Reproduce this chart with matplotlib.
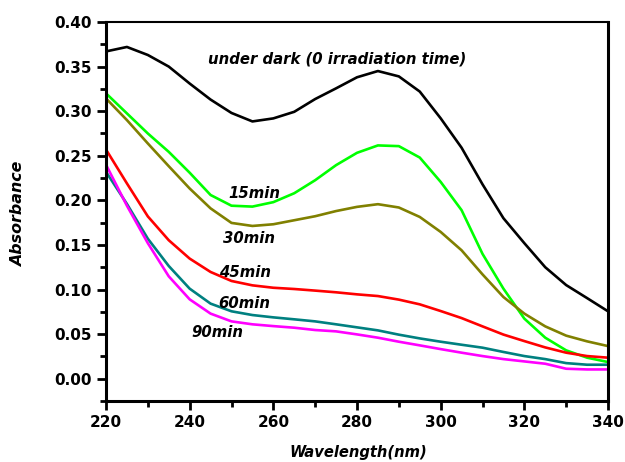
import matplotlib
matplotlib.use("Agg")
import matplotlib.pyplot as plt
from matplotlib.ticker import MultipleLocator, FormatStrFormatter

# Wavelength grid (nm)
wavelength = [220, 225, 230, 235, 240, 245, 250, 255, 260, 265, 270, 275, 280,
              285, 290, 295, 300, 305, 310, 315, 320, 325, 330, 335, 340]

# Absorbance spectra at each irradiation time
dark = [0.367, 0.372, 0.363, 0.350, 0.331, 0.313, 0.298, 0.2885, 0.2919, 0.2993,
        0.3136, 0.3256, 0.338, 0.345, 0.339, 0.322, 0.292, 0.259, 0.218, 0.180,
        0.152, 0.125, 0.105, 0.0904, 0.0756]
min15 = [0.320, 0.2975, 0.275, 0.2544, 0.231, 0.206, 0.194, 0.193, 0.198, 0.208,
         0.2226, 0.2395, 0.2533, 0.2616, 0.2608, 0.248, 0.2207, 0.189, 0.140, 0.101,
         0.0674, 0.046, 0.0318, 0.0236, 0.0187]
min30 = [0.3143, 0.290, 0.2638, 0.2383, 0.2133, 0.191, 0.1747, 0.1713, 0.1732, 0.1777,
         0.1822, 0.188, 0.1927, 0.1957, 0.192, 0.1814, 0.1646, 0.144, 0.117, 0.0916,
         0.073, 0.0587, 0.0483, 0.0419, 0.0366]
min45 = [0.257, 0.219, 0.182, 0.1553, 0.1347, 0.1197, 0.1096, 0.1047, 0.102, 0.1006,
         0.0988, 0.0969, 0.0946, 0.0927, 0.0887, 0.0834, 0.0759, 0.068, 0.0587, 0.0495,
         0.0422, 0.0351, 0.0292, 0.0254, 0.0236]
min60 = [0.232, 0.196, 0.157, 0.1264, 0.101, 0.0842, 0.0756, 0.0714, 0.0688, 0.0666,
         0.0643, 0.061, 0.0576, 0.0542, 0.0494, 0.0452, 0.0415, 0.0381, 0.0348, 0.030,
         0.0254, 0.022, 0.0175, 0.0157, 0.0157]
min90 = [0.240, 0.194, 0.152, 0.1148, 0.089, 0.073, 0.0643, 0.061, 0.059, 0.0572,
         0.0546, 0.0531, 0.0497, 0.046, 0.0415, 0.0374, 0.0332, 0.0292, 0.0254, 0.022,
         0.0194, 0.0168, 0.0112, 0.0104, 0.0104]

series = [dark, min15, min30, min45, min60, min90]
colors = ["#000000", "#00FF00", "#808000", "#FF0000", "#008080", "#FF00FF"]

# Curve annotations: text, left x (nm), baseline y (absorbance)
labels = ["under dark (0 irradiation time)", "15min", "30min", "45min", "60min", "90min"]
label_x = [244.4, 249.2, 248.0, 247.1, 246.8, 240.5]
label_y = [0.3536, 0.2021, 0.1522, 0.1141, 0.0793, 0.0467]

fig = plt.figure(figsize=(6.25, 4.62), dpi=100)
ax = fig.add_axes([0.1696, 0.132, 0.8032, 0.8204])

for ys, c in zip(series, colors):
    ax.plot(wavelength, ys, color=c, lw=1.9, solid_joinstyle="round")

lab_font = dict(family="DejaVu Sans", weight="bold", style="italic", size=10.7)
for t, x, y in zip(labels, label_x, label_y):
    ax.text(x, y, t, ha="left", va="baseline", **lab_font)

ax.set_xlim(220, 340)
ax.set_ylim(-0.025, 0.40)
ax.xaxis.set_major_locator(MultipleLocator(20))
ax.xaxis.set_minor_locator(MultipleLocator(10))
ax.yaxis.set_major_locator(MultipleLocator(0.05))
ax.yaxis.set_minor_locator(MultipleLocator(0.025))
ax.yaxis.set_major_formatter(FormatStrFormatter("%.2f"))

ax.tick_params(which="both", direction="out", top=False, right=False, width=2.0)
ax.tick_params(which="major", length=6.5, labelsize=11, pad=3.8)
ax.tick_params(which="minor", length=4.3)
for lbl in ax.get_xticklabels() + ax.get_yticklabels():
    lbl.set_fontweight("bold")
    lbl.set_family("DejaVu Sans")

for side in ["left", "bottom", "right"]:
    ax.spines[side].set_linewidth(2.2)
ax.spines["top"].set_linewidth(1.5)

ax.set_ylabel("Absorbance", fontsize=11.4, fontweight="bold", fontstyle="italic",
              family="DejaVu Sans", va="center")
ax.yaxis.set_label_coords(-0.174, 0.493)
ax.set_xlabel("Wavelength(nm)", fontsize=10.6, fontweight="bold", fontstyle="italic",
              family="DejaVu Sans", va="bottom")
ax.xaxis.set_label_coords(0.502, -0.155)

fig.savefig("out.png", dpi=100)
